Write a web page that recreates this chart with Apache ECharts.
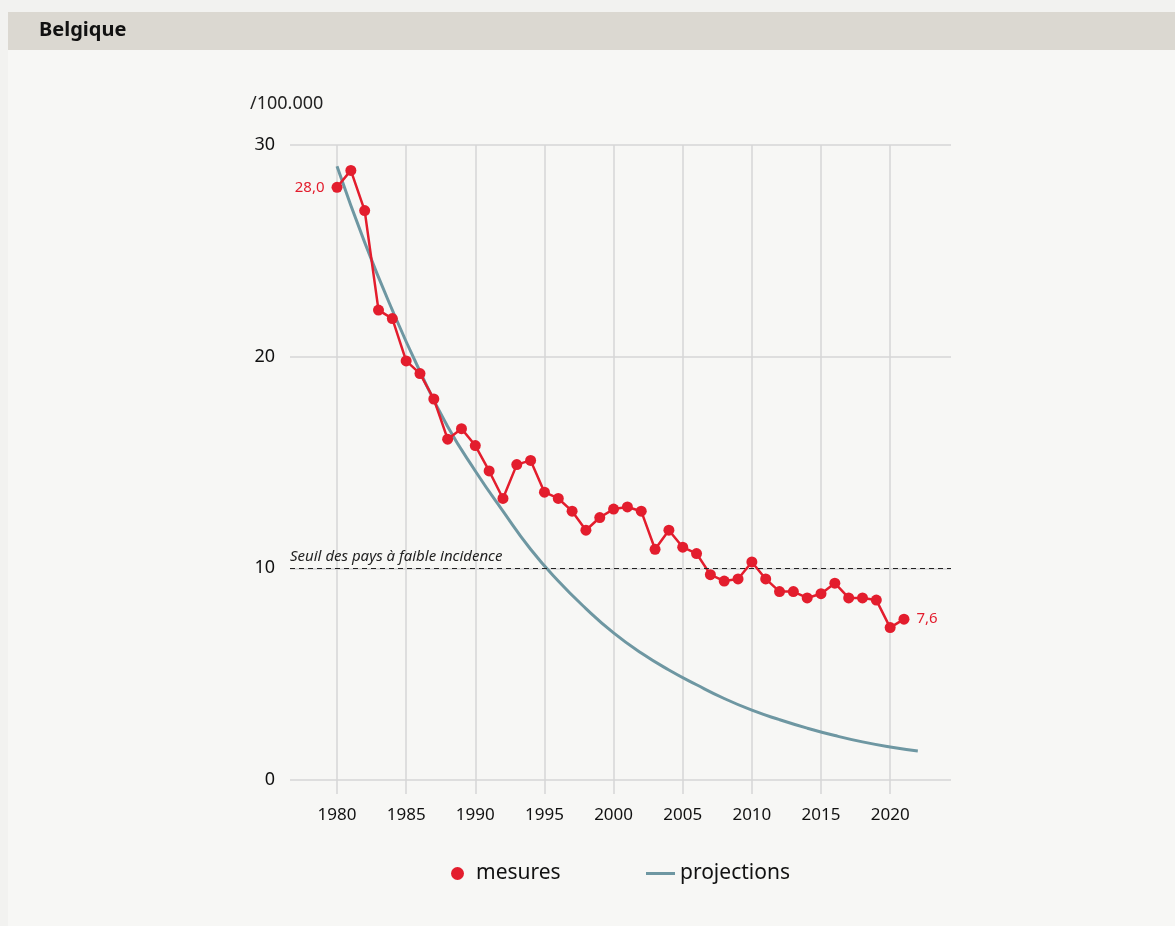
<!DOCTYPE html>
<html>
<head>
<meta charset="utf-8">
<script src="https://cdn.jsdelivr.net/npm/echarts@6/dist/echarts.min.js"></script>
<style>
html,body{margin:0;padding:0;background:#f2f2f0;}
#chart{width:1175px;height:926px;}
</style>
</head>
<body>
<div id="chart"></div>
<script>
// ---- data ----
var years = [1980,1981,1982,1983,1984,1985,1986,1987,1988,1989,1990,1991,1992,1993,1994,1995,1996,1997,1998,1999,2000,2001,2002,2003,2004,2005,2006,2007,2008,2009,2010,2011,2012,2013,2014,2015,2016,2017,2018,2019,2020,2021];
var mesures = [28.0,28.8,26.9,22.2,21.8,19.8,19.2,18.0,16.1,16.6,15.8,14.6,13.3,14.9,15.1,13.6,13.3,12.7,11.8,12.4,12.8,12.9,12.7,10.9,11.8,11.0,10.7,9.7,9.4,9.5,10.3,9.5,8.9,8.9,8.6,8.8,9.3,8.6,8.6,8.5,7.2,7.6];
var projYears = [1980,1982,1984,1986,1988,1990,1992,1994,1996,1998,2000,2002,2004,2006,2008,2010,2012,2014,2016,2018,2020,2022];
var projections = [29.0,25.4,22.2,19.3,16.7,14.6,12.7,10.9,9.4,8.1,6.95,6.0,5.2,4.5,3.85,3.3,2.85,2.45,2.1,1.8,1.56,1.37];
var xTicks = [1980,1985,1990,1995,2000,2005,2010,2015,2020];
var seuil = 10;
var labelled = {1980:'28,0', 2021:'7,6'};

var chart = echarts.init(document.getElementById('chart'));
var FONT = 'Noto Sans';
var RED = '#e31d2d';
var TEAL = '#6e97a2';
var GRID = '#d6d6d6';

var mesData = years.map(function(y,i){
  var item = {value:[y, mesures[i]]};
  if (labelled[y]) {
    item.label = {show:true, formatter:labelled[y], position:(y===1980?'left':'right'), distance:7, color:RED, fontSize:15, fontFamily:FONT};
  }
  return item;
});
var projData = projYears.map(function(y,i){ return [y, projections[i]]; });

chart.setOption({
  backgroundColor:'#f2f2f0',
  animation:false,
  textStyle:{fontFamily:FONT},
  graphic:[
    {type:'rect', shape:{x:8,y:12,width:1167,height:914}, style:{fill:'#f7f7f5'}, z:-10, silent:true},
    {type:'rect', shape:{x:8,y:12,width:1167,height:38}, style:{fill:'#dbd8d1'}, z:-9, silent:true},
    {type:'text', left:39, top:20, style:{text:'Belgique', font:'bold 20px "Noto Sans"', fill:'#111'}},
    {type:'text', left:250, top:95, style:{text:'/100.000', font:'18px "Noto Sans"', fill:'#222'}}
  ],
  grid:{left:290, right:224, top:145, bottom:146, containLabel:false},
  xAxis:{
    type:'value', min:1976.6, max:2024.4,
    axisLine:{show:false},
    axisTick:{show:true, length:14, customValues:xTicks, lineStyle:{color:GRID, width:1.5}},
    axisLabel:{customValues:xTicks, margin:27, fontSize:17, color:'#111', fontFamily:FONT,
      formatter:function(v){ return String(v); }},
    splitLine:{show:true, lineStyle:{color:GRID, width:1.5}}
  },
  yAxis:{
    type:'value', min:0, max:30, interval:10,
    axisLine:{show:false}, axisTick:{show:false},
    axisLabel:{margin:15, fontSize:18, color:'#111', fontFamily:FONT, padding:[3,0,0,0]},
    splitLine:{show:true, lineStyle:{color:GRID, width:1.5}}
  },
  legend:[
    {data:[{name:'mesures', icon:'circle'}], left:446, top:858, itemWidth:27, itemHeight:13,
     textStyle:{fontSize:21, color:'#111', fontFamily:FONT}},
    {data:[{name:'projections', icon:'rect'}], left:641, top:858, itemWidth:29, itemHeight:3,
     textStyle:{fontSize:21, color:'#111', fontFamily:FONT}}
  ],
  series:[
    {
      name:'projections', type:'line', data:projData, smooth:true, showSymbol:false, symbol:'none',
      lineStyle:{color:TEAL, width:3}, itemStyle:{color:TEAL}, z:2,
      markLine:{
        silent:true, symbol:'none',
        lineStyle:{color:'#222', type:[5,4], width:1.2},
        label:{show:true, position:'insideStartTop', formatter:'Seuil des pays à faible incidence', fontStyle:'italic', fontSize:15, color:'#222', fontFamily:FONT, distance:[0,4]},
        data:[{yAxis:seuil}]
      }
    },
    {
      name:'mesures', type:'line', data:mesData, symbol:'circle', symbolSize:11,
      lineStyle:{color:RED, width:2.5}, itemStyle:{color:RED}, z:3,
      label:{show:false}
    }
  ]
});
</script>
</body>
</html>
